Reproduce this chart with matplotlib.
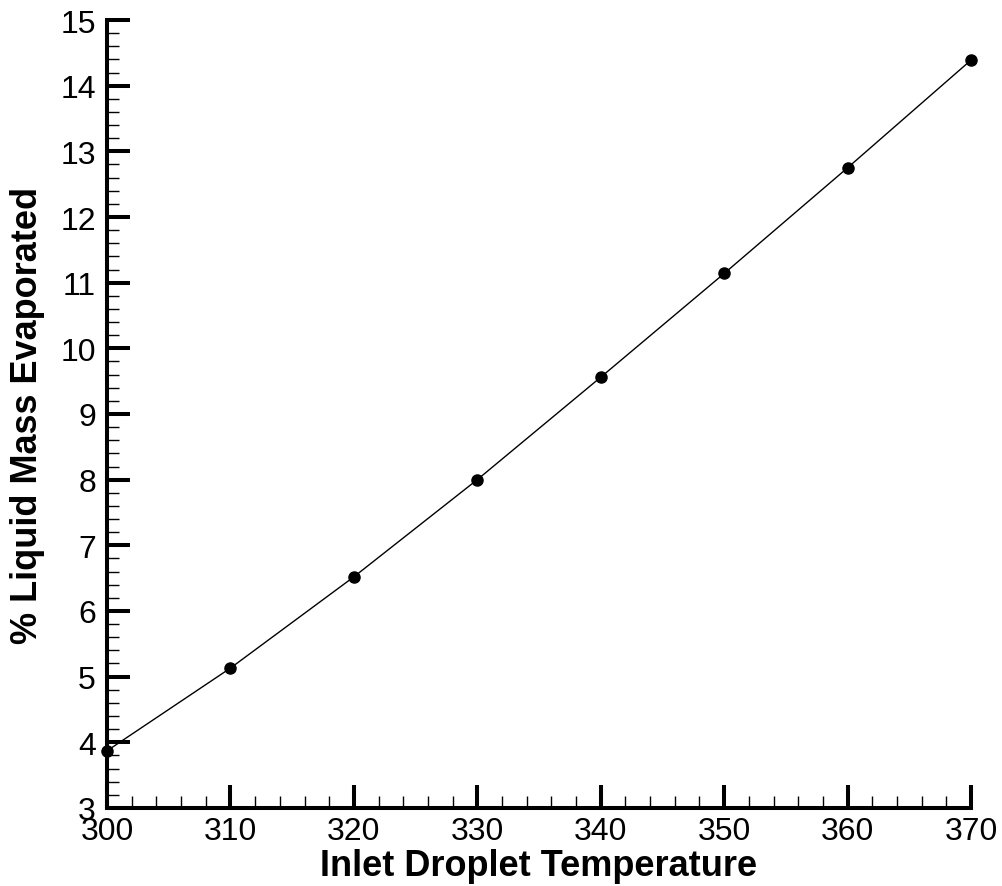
import matplotlib
matplotlib.use("Agg")
import matplotlib.pyplot as plt
from matplotlib.ticker import MultipleLocator

# data
temperature = [300, 310, 320, 330, 340, 350, 360, 370]
pct_evaporated = [3.87, 5.13, 6.52, 8.00, 9.56, 11.14, 12.75, 14.39]

plt.rcParams["font.family"] = ["Liberation Sans", "DejaVu Sans"]

fig = plt.figure(figsize=(10.02, 8.87), dpi=100)
ax = fig.add_axes([0.1068, 0.0880, 0.8623, 0.8883])

ax.plot(temperature, pct_evaporated, color="black", linewidth=1.0,
        marker="o", markersize=8, clip_on=False, zorder=3)

ax.set_xlim(300, 370)
ax.set_ylim(3, 15)
ax.xaxis.set_major_locator(MultipleLocator(10))
ax.xaxis.set_minor_locator(MultipleLocator(2))
ax.yaxis.set_major_locator(MultipleLocator(1))
ax.yaxis.set_minor_locator(MultipleLocator(0.2))

for side in ("top", "right"):
    ax.spines[side].set_visible(False)
for side in ("left", "bottom"):
    ax.spines[side].set_linewidth(2.9)
    ax.spines[side].set_capstyle("projecting")

ax.tick_params(which="major", direction="in", length=16.5, width=2.9, labelsize=23)
ax.tick_params(which="minor", direction="in", length=8.5, width=1.0)
ax.tick_params(axis="x", which="major", pad=6)
ax.tick_params(axis="y", which="major", pad=8)

ax.set_xlabel("Inlet Droplet Temperature", fontsize=26, fontweight="bold", labelpad=1)
ax.set_ylabel("% Liquid Mass Evaporated", fontsize=26, fontweight="bold", labelpad=11)

fig.savefig("out.png", dpi=100)
